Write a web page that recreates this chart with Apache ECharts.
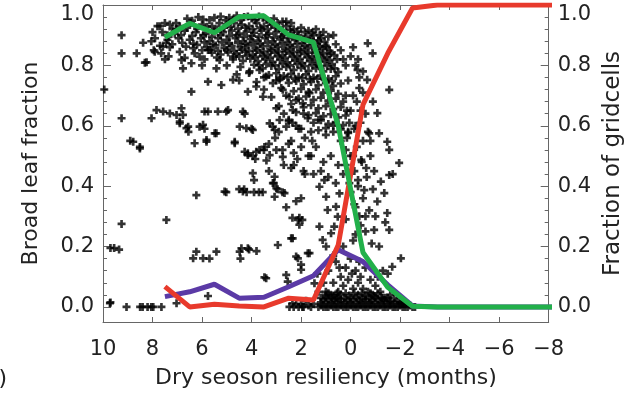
<!DOCTYPE html>
<html>
<head>
<meta charset="utf-8">
<script src="https://cdn.jsdelivr.net/npm/echarts@6/dist/echarts.min.js"></script>
<style>
  html, body { margin: 0; padding: 0; background: #fff; }
  #chart { width: 633px; height: 395px; }
</style>
</head>
<body>
<div id="chart"></div>
<script>
// bin centres (months) for the three curves
const binX = [7.5, 6.5, 5.5, 4.5, 3.5, 2.5, 1.5, 0.5, -0.5, -1.5, -2.5, -3.5, -4.5, -5.5, -6.5, -7.5, -8.5]
const greenFrac = [0.893, 0.939, 0.908, 0.961, 0.964, 0.901, 0.876, 0.60, 0.18, 0.065, 0.002, 0, 0, 0, 0, 0, 0]
const redFrac = [0.067, 0.0, 0.009, 0.003, 0.0, 0.029, 0.023, 0.205, 0.67, 0.84, 0.99, 1.0, 1.0, 1.0, 1.0, 1.0, 1.0]
const purpleFrac = [0.034, 0.05, 0.075, 0.029, 0.032, 0.067, 0.103, 0.189, 0.15, 0.073, 0.003, 0, 0, 0, 0, 0, 0]

const yMajor = [0, 0.2, 0.4, 0.6, 0.8, 1.0]
const yMinor = [0.04, 0.08, 0.12, 0.16, 0.24, 0.28, 0.32, 0.36, 0.44, 0.48, 0.52, 0.56, 0.64, 0.68, 0.72, 0.76, 0.84, 0.88, 0.92, 0.96]

// scatter of gridcells
const leftPts = [
  [9.25, 0.90], [9.25, 0.84], [9.95, 0.72], [9.25, 0.625], [8.9, 0.55], [9.25, 0.275], [9.7, 0.195], [9.55, 0.195],
  [9.35, 0.19], [9.7, 0.015], [9.05, 0.0], [8.64, 0.84], [8.38, 0.875], [8.24, 0.81], [8.78, 0.547], [8.51, 0.53],
  [8.04, 0.625], [8.0, 0.91], [8.05, 0.88], [7.7, 0.93], [7.5, 0.94], [7.4, 0.9], [7.3, 0.86], [7.35, 0.83],
  [7.5, 0.82], [7.65, 0.84], [7.95, 0.85], [7.2, 0.92], [7.05, 0.94], [8.31, 0.809], [7.91, 0.845], [7.58, 0.862],
  [7.84, 0.652], [7.57, 0.647], [7.3, 0.641], [7.03, 0.636], [6.83, 0.658], [6.77, 0.636], [6.9, 0.614], [6.63, 0.592],
  [6.55, 0.58], [6.3, 0.542], [5.82, 0.547], [6.1, 0.597], [5.9, 0.59], [5.49, 0.575], [5.76, 0.647], [5.36, 0.647],
  [4.95, 0.652], [4.35, 0.647], [4.68, 0.547], [4.48, 0.597], [4.21, 0.592], [4.0, 0.59], [4.28, 0.514], [4.15, 0.503],
  [6.43, 0.713], [5.76, 0.746], [5.22, 0.735], [6.77, 0.79], [6.83, 0.818], [6.43, 0.807], [6.1, 0.829], [6.0, 0.80],
  [6.36, 0.857], [5.76, 0.851], [5.29, 0.818], [5.42, 0.79], [4.75, 0.829], [4.75, 0.752], [4.5, 0.75], [4.15, 0.713],
  [3.81, 0.73], [3.54, 0.696], [4.08, 0.78], [3.68, 0.785], [3.41, 0.763], [3.14, 0.741], [8.51, 0.525], [6.9, 0.608],
  [6.56, 0.597], [5.96, 0.603], [5.9, 0.647], [5.02, 0.647], [5.42, 0.575], [5.82, 0.553], [4.68, 0.542], [4.28, 0.64],
  [3.95, 0.586], [3.27, 0.608], [3.07, 0.586], [2.87, 0.619], [2.6, 0.597]
]

const blobPts = [
  [6.6, 0.955], [6.15, 0.96], [5.7, 0.95], [5.25, 0.962], [4.9, 0.958], [4.6, 0.965], [4.3, 0.96], [4.0, 0.955],
  [3.7, 0.962], [3.4, 0.95], [3.1, 0.955], [2.75, 0.945], [2.4, 0.94],
  [7.8, 0.93], [7.3, 0.935], [6.9, 0.93], [6.45, 0.94], [6.0, 0.935], [5.6, 0.93], [5.3, 0.94], [5.0, 0.935],
  [4.7, 0.94], [4.4, 0.935], [4.1, 0.93], [3.8, 0.94], [3.5, 0.93], [3.2, 0.935], [2.9, 0.925], [2.6, 0.93],
  [2.3, 0.92], [2.0, 0.925], [1.7, 0.915], [1.4, 0.92], [1.1, 0.91],
  [7.6, 0.91], [7.1, 0.905], [6.7, 0.915], [6.25, 0.91], [5.85, 0.905], [5.5, 0.915], [5.15, 0.91], [4.8, 0.915],
  [4.5, 0.905], [4.2, 0.912], [3.9, 0.908], [3.6, 0.915], [3.3, 0.905], [3.0, 0.91], [2.7, 0.9], [2.4, 0.905],
  [2.1, 0.9], [1.8, 0.895], [1.5, 0.9], [1.2, 0.89], [0.9, 0.895], [0.7, 0.9],
  [7.9, 0.89], [7.4, 0.885], [6.95, 0.89], [6.5, 0.885], [6.05, 0.89], [5.7, 0.88], [5.35, 0.89], [5.0, 0.885],
  [4.65, 0.89], [4.35, 0.88], [4.05, 0.887], [3.75, 0.882], [3.45, 0.89], [3.15, 0.88], [2.85, 0.886], [2.55, 0.878],
  [2.25, 0.884], [1.95, 0.875], [1.65, 0.88], [1.35, 0.872], [1.05, 0.878], [0.6, 0.87],
  [7.7, 0.865], [7.2, 0.87], [6.65, 0.862], [6.2, 0.868], [5.8, 0.86], [5.45, 0.866], [5.1, 0.858], [4.8, 0.865],
  [4.45, 0.86], [4.15, 0.866], [3.85, 0.858], [3.55, 0.864], [3.25, 0.856], [2.95, 0.862], [2.65, 0.855], [2.35, 0.86],
  [2.05, 0.852], [1.75, 0.858], [1.45, 0.85], [1.15, 0.855], [0.85, 0.848], [0.4, 0.85],
  [6.9, 0.845], [6.3, 0.84], [5.6, 0.842], [5.25, 0.836], [4.95, 0.843], [4.6, 0.838], [4.25, 0.845], [3.95, 0.835],
  [3.65, 0.842], [3.35, 0.836], [3.05, 0.842], [2.75, 0.834], [2.45, 0.84], [2.15, 0.832], [1.85, 0.838], [1.55, 0.83],
  [1.25, 0.836], [0.95, 0.828], [0.65, 0.834], [0.3, 0.82],
  [6.7, 0.825], [5.9, 0.82], [5.4, 0.826], [4.75, 0.82], [4.35, 0.815], [4.05, 0.822], [3.75, 0.814], [3.45, 0.82],
  [3.15, 0.812], [2.85, 0.818], [2.55, 0.81], [2.25, 0.816], [1.95, 0.808], [1.65, 0.814], [1.35, 0.806], [1.05, 0.812],
  [0.75, 0.804],
  [5.0, 0.8], [4.45, 0.795], [3.9, 0.802], [3.55, 0.79], [3.2, 0.798], [2.9, 0.788], [2.6, 0.795], [2.3, 0.785],
  [2.0, 0.792], [1.7, 0.782], [1.4, 0.79], [1.1, 0.78], [0.8, 0.788], [0.5, 0.778],
  [4.6, 0.77], [4.1, 0.775], [3.3, 0.768], [3.0, 0.774], [2.7, 0.765], [2.4, 0.772], [2.1, 0.762], [1.8, 0.77],
  [1.5, 0.76], [1.2, 0.766], [0.9, 0.756], [0.6, 0.764],
  [3.8, 0.745], [3.0, 0.75], [2.5, 0.742], [2.2, 0.748], [1.9, 0.738], [1.6, 0.745], [1.3, 0.735], [1.0, 0.742],
  [0.7, 0.732], [0.4, 0.74],
  [3.5, 0.72], [2.8, 0.725], [2.3, 0.715], [2.0, 0.722], [1.7, 0.712], [1.4, 0.72], [1.1, 0.71], [0.8, 0.716], [0.5, 0.706],
  [3.2, 0.695], [2.6, 0.7], [2.1, 0.69], [1.8, 0.697], [1.5, 0.686], [1.2, 0.693], [0.9, 0.683], [0.6, 0.69], [0.3, 0.68],
  [2.9, 0.665], [2.4, 0.672], [1.9, 0.662], [1.6, 0.668], [1.3, 0.658], [1.0, 0.665], [0.7, 0.655], [0.4, 0.662], [0.15, 0.65],
  [2.7, 0.64], [2.2, 0.645], [1.7, 0.635], [1.4, 0.642], [1.1, 0.632], [0.8, 0.638], [0.5, 0.628], [0.2, 0.634],
  [2.5, 0.615], [1.5, 0.61], [1.2, 0.618], [0.9, 0.606], [0.6, 0.612], [0.3, 0.602], [0.05, 0.61],
  [2.0, 0.59], [1.3, 0.585], [1.0, 0.592], [0.7, 0.58], [0.4, 0.588], [0.1, 0.576]
]

// the solid core of the blob, between the rows above
const blobFill = [
  [6.4, 0.948], [5.95, 0.952], [5.5, 0.958], [5.05, 0.95], [4.75, 0.952], [4.45, 0.95], [4.15, 0.962], [3.85, 0.95],
  [3.55, 0.958], [3.25, 0.945], [2.95, 0.94], [2.6, 0.945],
  [7.05, 0.92], [6.6, 0.925], [6.2, 0.922], [5.8, 0.928], [5.4, 0.92], [5.1, 0.925], [4.85, 0.928], [4.55, 0.922],
  [4.25, 0.925], [3.95, 0.92], [3.65, 0.925], [3.35, 0.92], [3.05, 0.925], [2.75, 0.915], [2.45, 0.918], [2.15, 0.912],
  [1.85, 0.91], [1.55, 0.908], [1.25, 0.9],
  [7.35, 0.895], [6.85, 0.9], [6.4, 0.898], [5.95, 0.9], [5.6, 0.895], [5.25, 0.9], [4.9, 0.898], [4.6, 0.9],
  [4.3, 0.895], [4.0, 0.898], [3.7, 0.895], [3.4, 0.9], [3.1, 0.893], [2.8, 0.895], [2.5, 0.89], [2.2, 0.89],
  [1.9, 0.885], [1.6, 0.888], [1.3, 0.883], [1.0, 0.865],
  [7.45, 0.875], [6.8, 0.875], [6.35, 0.872], [5.9, 0.876], [5.55, 0.87], [5.2, 0.876], [4.9, 0.872], [4.55, 0.875],
  [4.25, 0.87], [3.95, 0.875], [3.65, 0.87], [3.35, 0.874], [3.05, 0.868], [2.75, 0.872], [2.45, 0.866], [2.15, 0.87],
  [1.85, 0.864], [1.55, 0.866], [1.25, 0.862], [0.95, 0.86],
  [6.0, 0.85], [5.65, 0.852], [5.35, 0.848], [5.0, 0.852], [4.7, 0.848], [4.4, 0.852], [4.1, 0.848], [3.8, 0.85],
  [3.5, 0.846], [3.2, 0.85], [2.9, 0.846], [2.6, 0.848], [2.3, 0.844], [2.0, 0.846], [1.7, 0.842], [1.4, 0.844],
  [1.1, 0.84], [0.8, 0.84],
  [4.5, 0.83], [4.2, 0.832], [3.85, 0.828], [3.55, 0.83], [3.25, 0.826], [2.95, 0.83], [2.65, 0.825], [2.35, 0.828],
  [2.05, 0.822], [1.75, 0.826], [1.45, 0.82], [1.15, 0.824], [0.85, 0.818], [0.55, 0.82],
  [3.7, 0.8], [3.4, 0.805], [3.05, 0.8], [2.75, 0.805], [2.45, 0.8], [2.15, 0.804], [1.85, 0.798], [1.55, 0.8],
  [1.25, 0.796], [0.95, 0.798], [0.65, 0.79],
  [3.5, 0.76], [2.85, 0.758], [2.55, 0.76], [2.25, 0.756], [1.95, 0.758], [1.65, 0.754], [1.35, 0.756], [1.05, 0.752],
  [0.75, 0.748]
]

const midPts = [
  [2.87, 0.752], [2.74, 0.719], [2.47, 0.696], [2.2, 0.685], [1.93, 0.674], [1.66, 0.708], [2.34, 0.652], [1.73, 0.625],
  [3.0, 0.658], [3.14, 0.597], [2.9, 0.58], [2.35, 0.61], [2.1, 0.59], [1.85, 0.56], [3.81, 0.514], [3.5, 0.52],
  [3.3, 0.54], [3.05, 0.56], [2.75, 0.52], [2.5, 0.54], [2.3, 0.51], [2.15, 0.49], [2.7, 0.47], [2.4, 0.46],
  [3.3, 0.45], [3.14, 0.41], [2.95, 0.39], [2.75, 0.38], [1.85, 0.44], [1.6, 0.5], [1.55, 0.55], [4.2, 0.38],
  [3.9, 0.38], [3.55, 0.38], [5.02, 0.38], [6.23, 0.37], [4.15, 0.509], [3.95, 0.5], [3.68, 0.52], [3.48, 0.53],
  [3.27, 0.503], [3.0, 0.52], [2.74, 0.497], [3.85, 0.49], [3.4, 0.485], [3.95, 0.443], [3.9, 0.42], [3.07, 0.431],
  [3.1, 0.41], [3.0, 0.393], [3.07, 0.365], [5.09, 0.382], [4.35, 0.382], [3.7, 0.38], [4.5, 0.39], [4.3, 0.39],
  [2.6, 0.33], [2.2, 0.35], [2.0, 0.36], [2.35, 0.295], [2.07, 0.295], [1.95, 0.288],
  [2.5, 0.62], [2.2, 0.6], [1.9, 0.64], [1.6, 0.58], [1.3, 0.62], [1.0, 0.57], [0.7, 0.6], [0.4, 0.55],
  [2.4, 0.55], [2.0, 0.53], [1.7, 0.5], [1.4, 0.53], [1.1, 0.48], [0.8, 0.5], [0.5, 0.47], [0.2, 0.52],
  [2.3, 0.47], [1.9, 0.45], [1.5, 0.44], [1.2, 0.45], [0.9, 0.43], [0.6, 0.41], [0.3, 0.44], [1.06, 0.42],
  [1.26, 0.398], [0.99, 0.365], [0.93, 0.321], [0.59, 0.332], [0.52, 0.299], [0.45, 0.376], [0.79, 0.244], [0.66, 0.266],
  [2.13, 0.288], [2.07, 0.272], [2.4, 0.227], [1.66, 0.178], [2.13, 0.161], [2.0, 0.123], [1.13, 0.222], [0.99, 0.2],
  [1.26, 0.266], [2.67, 0.377]
]

const rightPts = [
  [-0.1, 0.5], [-0.2, 0.6], [-0.4, 0.65], [-0.1, 0.7], [0.1, 0.58], [-0.3, 0.42], [0.0, 0.38], [-0.2, 0.33],
  [0.2, 0.29], [-0.4, 0.27], [-0.1, 0.22], [0.3, 0.2], [-0.6, 0.3], [-0.8, 0.55], [-0.5, 0.78], [-0.9, 0.68],
  [-0.3, 0.82], [-0.1, 0.86], [0.2, 0.8], [0.1, 0.75], [0.0, 0.83], [-0.2, 0.8], [-0.35, 0.76], [0.2, 0.7],
  [-0.5, 0.71], [-0.25, 0.68], [0.0, 0.65], [-0.6, 0.64], [-0.4, 0.61], [-0.15, 0.59], [0.15, 0.56], [-0.7, 0.58],
  [-0.5, 0.55], [-0.25, 0.53], [0.0, 0.5], [-0.8, 0.5], [-0.45, 0.48], [-0.15, 0.45], [0.2, 0.47], [-0.65, 0.43],
  [-0.3, 0.4], [0.05, 0.41], [-0.9, 0.39], [-0.5, 0.36], [-0.15, 0.34], [-0.75, 0.32], [-0.35, 0.3], [-0.6, 0.25],
  [-0.2, 0.24], [-0.85, 0.21], [-1.0, 0.3], [-0.95, 0.45],
  [-0.69, 0.873], [-0.89, 0.84], [-0.28, 0.785], [-0.67, 0.752], [-0.35, 0.725], [-1.56, 0.719], [-1.08, 0.642], [-0.75, 0.575],
  [-1.15, 0.575], [-1.48, 0.547], [-1.56, 0.52], [-1.96, 0.477], [-0.43, 0.487], [-0.63, 0.46], [-1.56, 0.437], [-1.7, 0.44],
  [-1.22, 0.415], [-0.55, 0.387], [-1.36, 0.377], [-1.08, 0.349], [-1.48, 0.311], [-1.56, 0.255], [-1.4, 0.28], [-0.95, 0.255],
  [-1.15, 0.2], [-1.68, 0.133], [-2.03, 0.161], [-1.5, 0.11]
]

const lowPts = [
  [7.44, 0.288], [6.23, 0.183], [6.36, 0.161], [5.96, 0.161], [5.7, 0.16], [5.42, 0.183], [4.48, 0.183], [4.45, 0.16],
  [4.15, 0.194], [3.8, 0.185], [4.41, 0.194], [4.1, 0.19], [3.41, 0.095], [2.94, 0.205], [2.34, 0.227], [2.2, 0.167],
  [2.0, 0.14], [1.73, 0.178], [5.76, 0.036], [7.03, 0.012], [2.54, 0.084], [1.46, 0.078], [2.6, 0.106], [3.48, 0.098],
  [0.9, 0.12], [0.6, 0.15], [0.4, 0.1], [0.2, 0.13], [0.0, 0.16], [-0.2, 0.12], [-0.4, 0.1], [-0.6, 0.13],
  [-0.8, 0.09], [-1.0, 0.07], [0.7, 0.08], [0.5, 0.05], [0.3, 0.07], [0.1, 0.09], [-0.1, 0.06], [-0.3, 0.08],
  [-0.5, 0.06], [-0.7, 0.05], [-0.9, 0.04], [-1.2, 0.05], [-1.4, 0.03], [-1.6, 0.04], [0.8, 0.04], [0.6, 0.03],
  [1.0, 0.05], [1.2, 0.03], [-0.05, 0.11], [0.45, 0.13], [-0.35, 0.15], [-1.1, 0.1], [-1.3, 0.12], [1.34, 0.11],
  [1.3, 0.05], [1.1, 0.08], [0.7, 0.17]
]

const basePts = [
  [9.72, 0.012], [8.5, 0.0], [8.4, 0.0], [8.2, 0.0], [8.05, 0.0], [7.64, 0.0], [7.97, 0.0], [2.47, 0.0],
  [2.3, 0.0], [2.1, 0.0], [1.9, 0.0], [1.7, 0.005], [1.5, 0.01], [1.8, 0.02],
  [1.3, 0.0], [1.1, 0.0], [0.9, 0.0], [0.7, 0.0], [0.5, 0.0], [0.3, 0.0], [0.1, 0.0], [-0.1, 0.0], [-0.3, 0.0],
  [-0.5, 0.0], [-0.7, 0.0], [-0.9, 0.0], [-1.1, 0.0], [-1.3, 0.0], [-1.5, 0.0], [-1.7, 0.0], [-1.9, 0.0],
  [-2.1, 0.0], [-2.3, 0.0], [-2.5, 0.0],
  [1.2, 0.015], [1.0, 0.015], [0.8, 0.015], [0.6, 0.015], [0.4, 0.015], [0.2, 0.015], [0.0, 0.015], [-0.2, 0.015],
  [-0.4, 0.015], [-0.6, 0.015], [-0.8, 0.015], [-1.0, 0.015], [-1.2, 0.015], [-1.4, 0.015], [-1.6, 0.015], [-1.8, 0.015],
  [-2.0, 0.015], [-2.2, 0.015],
  [1.0, 0.03], [0.75, 0.03], [0.5, 0.03], [0.25, 0.03], [0.0, 0.03], [-0.25, 0.03], [-0.5, 0.03], [-0.75, 0.03],
  [-1.0, 0.03], [-1.25, 0.03], [-1.5, 0.03], [-1.75, 0.03],
  [0.9, 0.045], [0.55, 0.045], [0.2, 0.045], [-0.15, 0.045], [-0.45, 0.045], [-0.8, 0.045], [-1.1, 0.045]
]

const baseFill = [
  [1.2, 0.005], [1.0, 0.0], [0.8, 0.005], [0.6, 0.0], [0.4, 0.005], [0.2, 0.0], [0.0, 0.005], [-0.2, 0.0],
  [-0.4, 0.005], [-0.6, 0.0], [-0.8, 0.005], [-1.0, 0.0], [-1.2, 0.005], [-1.4, 0.0], [-1.6, 0.005], [-1.8, 0.0],
  [-2.0, 0.005], [-2.2, 0.0], [-2.4, 0.005], [-2.6, 0.0],
  [1.1, 0.025], [0.9, 0.025], [0.65, 0.022], [0.4, 0.025], [0.15, 0.022], [-0.1, 0.025], [-0.35, 0.022], [-0.6, 0.025],
  [-0.85, 0.022], [-1.1, 0.025], [-1.35, 0.022], [-1.6, 0.02], [-1.9, 0.02], [-2.1, 0.01],
  [1.0, 0.04], [0.7, 0.038], [0.4, 0.04], [0.05, 0.038], [-0.3, 0.04], [-0.6, 0.036], [-0.95, 0.035], [-1.3, 0.03],
  [2.2, 0.008], [2.0, 0.01], [1.95, 0.0], [1.6, 0.0], [2.35, 0.012]
]

const scatterPts = [].concat(leftPts, blobPts, blobFill, midPts, rightPts, lowPts, basePts, baseFill)

const font = 'DejaVu Sans'
const axisColor = '#666'
const textColor = '#222'
const plus = 'path://M3,0H6V3H9V6H6V9H3V6H0V3H3Z'

function xFmt(v) {
  return v < 0 ? '\u2212' + (-v) : String(v)
}

// the top label (1.0) sits a little below its tick, as in the original
function yFmt(v) {
  return v >= 1 ? '{t|' + v.toFixed(1) + '}' : v.toFixed(1)
}

function curve(vals) {
  return binX.map((x, i) => [x, vals[i]])
}

const chart = echarts.init(document.getElementById('chart'))

const xBase = {
  type: 'value',
  min: -8,
  max: 10,
  interval: 2,
  inverse: true,
  splitLine: { show: false },
  axisLine: { onZero: false, lineStyle: { color: axisColor, width: 1 } },
  axisTick: { inside: true, length: 5, lineStyle: { color: axisColor } }
}

const yBase = {
  type: 'value',
  min: -0.05,
  max: 1.0,
  splitLine: { show: false }
}

const yLabel = {
  fontFamily: font,
  fontSize: 21,
  color: textColor,
  margin: 9,
  customValues: yMajor,
  formatter: yFmt,
  rich: { t: { fontFamily: font, fontSize: 21, color: textColor, padding: [20, 0, 0, 0] } }
}

const option = {
  animation: false,
  backgroundColor: '#fff',
  grid: { left: 103, right: 83, top: 5, bottom: 73 },
  xAxis: [
    Object.assign({}, xBase, {
      position: 'bottom',
      name: 'Dry seoson resiliency (months)',
      nameLocation: 'middle',
      nameGap: 45,
      nameTextStyle: { fontFamily: font, fontSize: 22, color: textColor },
      axisLabel: { fontFamily: font, fontSize: 21, color: textColor, margin: 17, formatter: xFmt }
    }),
    Object.assign({}, xBase, {
      position: 'top',
      axisLabel: { show: false }
    })
  ],
  yAxis: [
    Object.assign({}, yBase, {
      position: 'left',
      name: 'Broad leaf fraction',
      nameLocation: 'middle',
      nameRotate: 90,
      nameGap: 61,
      nameTextStyle: { fontFamily: font, fontSize: 22, color: textColor },
      axisLine: { show: true, onZero: false, lineStyle: { color: axisColor, width: 1 } },
      axisTick: { inside: true, length: 8, customValues: yMajor, lineStyle: { color: axisColor } },
      axisLabel: yLabel
    }),
    Object.assign({}, yBase, {
      position: 'left',
      axisLine: { show: false, onZero: false },
      axisTick: { inside: true, length: 4, customValues: yMinor, lineStyle: { color: axisColor } },
      axisLabel: { show: false }
    }),
    Object.assign({}, yBase, {
      position: 'right',
      name: 'Fraction of gridcells',
      nameLocation: 'middle',
      nameRotate: 90,
      nameGap: 50,
      nameTextStyle: { fontFamily: font, fontSize: 23, color: textColor },
      axisLine: { show: true, onZero: false, lineStyle: { color: axisColor, width: 1 } },
      axisTick: { inside: true, length: 8, customValues: yMajor, lineStyle: { color: axisColor } },
      axisLabel: yLabel
    }),
    Object.assign({}, yBase, {
      position: 'right',
      axisLine: { show: false, onZero: false },
      axisTick: { inside: true, length: 4, customValues: yMinor, lineStyle: { color: axisColor } },
      axisLabel: { show: false }
    })
  ],
  graphic: [
    { type: 'text', left: -15, top: 368, style: { text: 'a)', fontFamily: font, fontSize: 22, fill: textColor } }
  ],
  series: [
    {
      type: 'scatter',
      xAxisIndex: 0,
      yAxisIndex: 0,
      symbol: plus,
      symbolSize: 8,
      itemStyle: { color: '#000' },
      data: scatterPts
    },
    {
      type: 'line',
      xAxisIndex: 0,
      yAxisIndex: 2,
      showSymbol: false,
      lineStyle: { color: '#5b3aa6', width: 5 },
      data: curve(purpleFrac)
    },
    {
      type: 'line',
      xAxisIndex: 0,
      yAxisIndex: 2,
      showSymbol: false,
      lineStyle: { color: '#e83a2c', width: 5 },
      data: curve(redFrac)
    },
    {
      type: 'line',
      xAxisIndex: 0,
      yAxisIndex: 0,
      showSymbol: false,
      lineStyle: { color: '#22b04a', width: 5 },
      data: curve(greenFrac)
    }
  ]
}

chart.setOption(option)
window.onresize = function() {
  chart.resize()
}
</script>
</body>
</html>
